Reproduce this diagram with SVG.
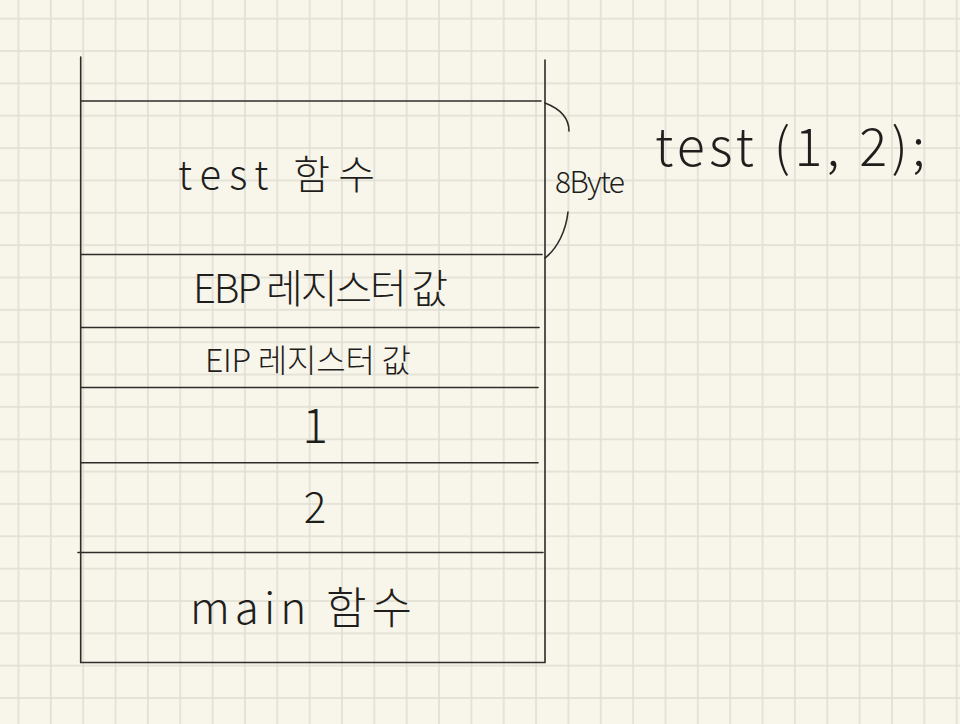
<svg xmlns="http://www.w3.org/2000/svg" width="960" height="724" viewBox="0 0 960 724">
  <defs>
    <pattern id="grid" x="17.5" y="17.7" width="32.35" height="32.35" patternUnits="userSpaceOnUse">
      <path d="M1 0V32.35M0 1H32.35" stroke="#e0ddd2" stroke-width="1.5" fill="none"/>
    </pattern>
    <style>
      .ink{stroke:#2e2c29;stroke-width:1.6;fill:none;stroke-linecap:round}
      .hand{font-family:"Noto Sans CJK KR","Noto Sans",sans-serif;font-weight:300;fill:#1f1e1c}
    </style>
  </defs>
  <rect width="960" height="724" fill="#f8f5ea"/>
  <rect width="960" height="724" fill="url(#grid)"/>

  <g id="stack-frame">
    <path class="ink" d="M80.7 57V662.5H545V60"/>
  </g>

  <g id="cell-test">
    <path class="ink" d="M81 101H541"/>
    <text class="hand" x="178" y="189" font-size="40" textLength="197" lengthAdjust="spacing">test 함수</text>
  </g>
  <g id="cell-ebp">
    <path class="ink" d="M81 254.5H542"/>
    <text class="hand" x="193" y="303" font-size="40" textLength="255" lengthAdjust="spacing">EBP 레지스터 값</text>
  </g>
  <g id="cell-eip">
    <path class="ink" d="M81 327.5H539"/>
    <text class="hand" x="205" y="372" font-size="32" textLength="206" lengthAdjust="spacing">EIP 레지스터 값</text>
  </g>
  <g id="cell-1">
    <path class="ink" d="M81 387.5H538"/>
    <text class="hand" x="315" y="443" font-size="48" text-anchor="middle">1</text>
  </g>
  <g id="cell-2">
    <path class="ink" d="M81 462.7H538"/>
    <text class="hand" x="315" y="523" font-size="42" text-anchor="middle">2</text>
  </g>
  <g id="cell-main">
    <path class="ink" d="M78 552.5H543"/>
    <text class="hand" x="190" y="624" font-size="44" textLength="222" lengthAdjust="spacing">main 함수</text>
  </g>

  <g id="connectors">
    <path class="ink" d="M545 103C558 108 569 117 569 131"/>
    <path class="ink" d="M568 212C566 230 558 248 545 258"/>
  </g>

  <g id="label-size">
    <text class="hand" x="555" y="193" font-size="30" textLength="70" lengthAdjust="spacing">8Byte</text>
  </g>
  <g id="label-call">
    <text class="hand" x="655" y="166" font-size="52" textLength="270" lengthAdjust="spacing">test (1, 2);</text>
  </g>
</svg>
